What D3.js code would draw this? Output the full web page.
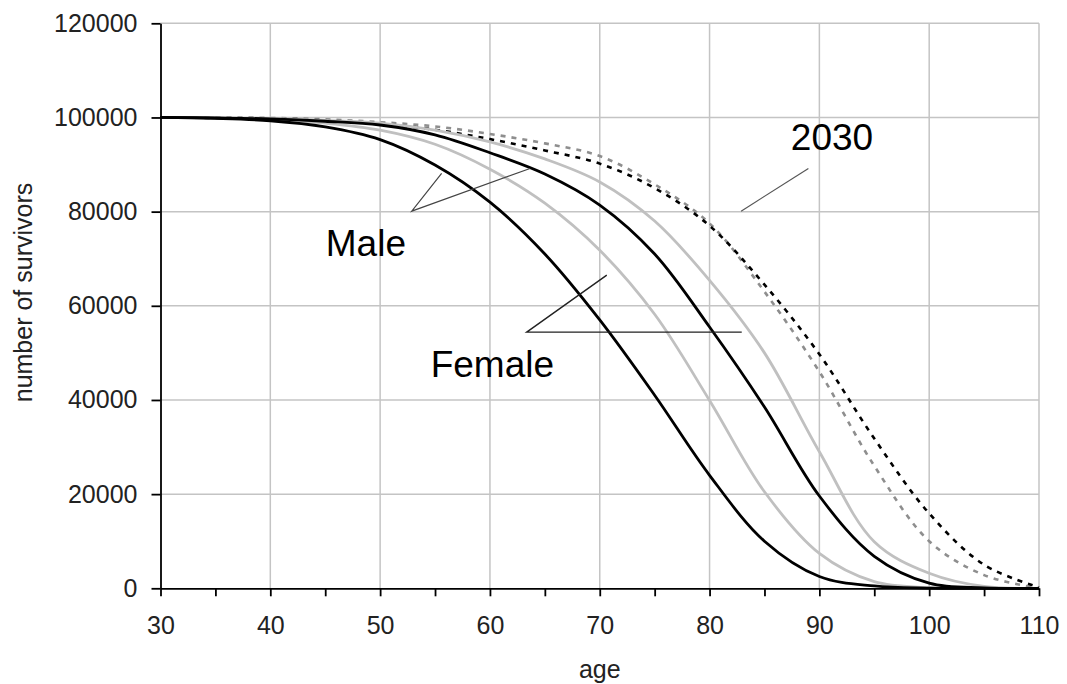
<!DOCTYPE html>
<html><head><meta charset="utf-8">
<script src="https://cdn.jsdelivr.net/npm/d3@7"></script>
<style>
body{margin:0;background:#fff}
svg{display:block}
text{font-family:"Liberation Sans",Arial,sans-serif}
</style>
</head><body>
<svg id="c" width="1067" height="684"></svg>
<script>
// ---- data ----
const ages = [30,35,40,45,50,55,60,65,70,75,80,85,90,95,100,105,110];
const maleBlack    = [100000,99800,99300,98000,95300,89900,82000,71000,57000,41000,24000,10000,2500,500,50,0,0];
const maleGrey     = [100000,99900,99600,98800,97300,94300,89000,81800,71800,58200,39900,20500,7400,1400,150,0,0];
const femaleBlack  = [100000,99900,99700,99200,98400,96300,92500,88000,81400,71000,55500,38500,19600,6800,1100,100,0];
const femaleGrey   = [100000,99900,99800,99400,98800,97300,94800,91200,86300,78000,65400,50000,29000,9900,3200,400,0];
const proj2030Grey = [100000,99950,99900,99600,99000,98100,96500,94500,91800,85800,77500,63000,46000,26000,10000,2800,0];
const proj2030Black= [100000,99900,99800,99400,98700,97400,95400,93000,90200,85000,77000,64500,49700,31800,15900,5000,200];

const xTickValues = [30,35,40,45,50,55,60,65,70,75,80,85,90,95,100,105,110];
const xTickLabels = ["30","","40","","50","","60","","70","","80","","90","","100","","110"];
const yTickValues = [0,20000,40000,60000,80000,100000,120000];
const yTickLabels = ["0","20000","40000","60000","80000","100000","120000"];
const xGrid = [40,50,60,70,80,90,100,110];
const yGrid = [20000,40000,60000,80000,100000,120000];

// annotations (in data units: age, survivors)
const annoTexts = [
  {label:"Male",   age:45.05, v:70550},
  {label:"Female", age:54.6,  v:44900},
  {label:"2030",   age:87.4,  v:93050}
];
const annoLines = [
  {pts:[[55.6,88100],[52.88,80100],[63.65,89170]], w:1.2, c:"#444"},
  {pts:[[70.64,66510],[63.35,54410],[82.93,54410]], w:1.4, c:"#222"},
  {pts:[[82.87,80100],[89.0,89170]], w:1.2, c:"#555"}
];

// ---- chart ----
const svg = d3.select("#c");
const x = d3.scaleLinear().domain([30,110]).range([160.5,1039]);
const y = d3.scaleLinear().domain([0,120000]).range([588.3,23.3]);

const grid = svg.append("g");
grid.selectAll("line.v").data(xGrid).join("line")
  .attr("x1",d=>x(d)).attr("x2",d=>x(d)).attr("y1",y(0)).attr("y2",y(120000))
  .attr("stroke","#c4c4c4").attr("stroke-width",1.5);
grid.selectAll("line.h").data(yGrid).join("line")
  .attr("y1",d=>y(d)).attr("y2",d=>y(d)).attr("x1",x(30)).attr("x2",x(110))
  .attr("stroke","#c4c4c4").attr("stroke-width",1.5);

const series = [
  {vals:proj2030Grey,  color:"#8e8e8e", dash:"5,6", w:2.6},
  {vals:proj2030Black, color:"#000",    dash:"5,6", w:2.6},
  {vals:maleGrey,      color:"#c0c0c0", dash:null,  w:2.8},
  {vals:femaleGrey,    color:"#c0c0c0", dash:null,  w:2.8},
  {vals:maleBlack,     color:"#000",    dash:null,  w:2.8},
  {vals:femaleBlack,   color:"#000",    dash:null,  w:2.8}
];
const line = d3.line().x(d=>x(d[0])).y(d=>Math.min(y(0), y(d[1]))).curve(d3.curveCatmullRom.alpha(0.5));
series.forEach(s=>{
  svg.append("path").datum(ages.map((a,i)=>[a,s.vals[i]]))
    .attr("d",line).attr("fill","none").attr("stroke",s.color)
    .attr("stroke-width",s.w).attr("stroke-dasharray",s.dash)
    .attr("stroke-linejoin","round");
});

// axes
const yAxis = d3.axisLeft(y).tickValues(yTickValues)
  .tickFormat((d,i)=>yTickLabels[i]).tickSize(9).tickSizeOuter(0).tickPadding(14);
const gy = svg.append("g").attr("transform",`translate(${x(30)},0)`).call(yAxis);
const xAxis = d3.axisBottom(x).tickValues(xTickValues)
  .tickFormat((d,i)=>xTickLabels[i]).tickSize(8).tickSizeOuter(0).tickPadding(20);
const gx = svg.append("g").attr("transform",`translate(0,${y(0)})`).call(xAxis);
[gx,gy].forEach(g=>{
  g.select(".domain").attr("stroke","#000").attr("stroke-width",1.8);
  g.selectAll(".tick line").attr("stroke","#000").attr("stroke-width",1.8);
  g.selectAll("text").attr("font-size",25).attr("fill","#222")
    .attr("font-family","'Liberation Sans',Arial,sans-serif");
});

// axis titles
svg.append("text").attr("x",(x(30)+x(110))/2).attr("y",678)
  .attr("text-anchor","middle").attr("font-size",25).attr("fill","#222").text("age");
svg.append("text").attr("transform","translate(32,292.5) rotate(-90)")
  .attr("text-anchor","middle").attr("font-size",25).attr("fill","#222").text("number of survivors");

// annotations
annoLines.forEach(a=>{
  svg.append("path").attr("d",d3.line().x(d=>x(d[0])).y(d=>y(d[1]))(a.pts))
    .attr("fill","none").attr("stroke",a.c).attr("stroke-width",a.w);
});
annoTexts.forEach(t=>{
  svg.append("text").attr("x",x(t.age)).attr("y",y(t.v))
    .attr("font-size",37).attr("fill","#000").text(t.label);
});
</script>
</body></html>
